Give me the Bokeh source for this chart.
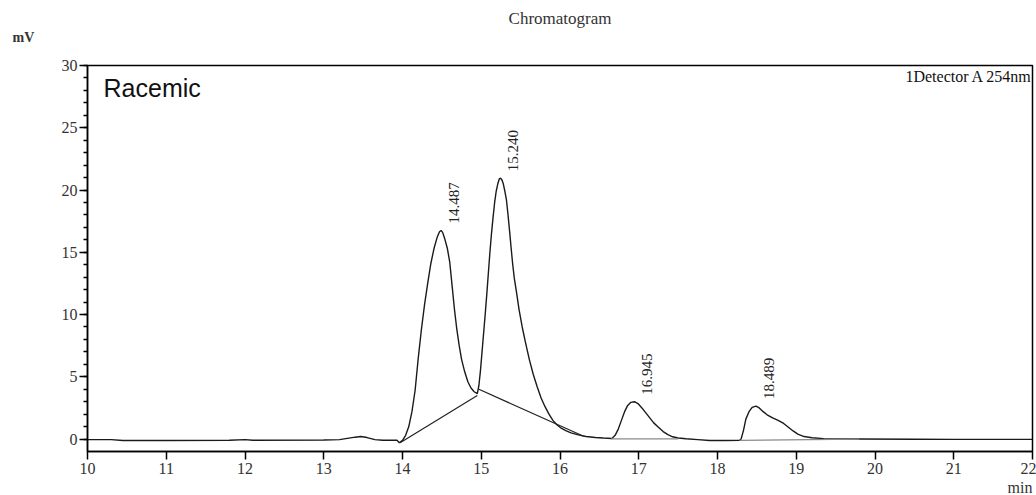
import math
from bokeh.plotting import figure
from bokeh.models import Range1d, FixedTicker, Label, ColumnDataSource, Title
from bokeh.core.properties import value
from bokeh.embed import file_html
from bokeh.resources import INLINE

# ---- data ----
time_min = [
    10.00, 10.30, 10.45, 11.00, 11.80, 12.00, 12.10, 13.00, 13.20, 13.30, 13.40, 13.47, 13.55, 13.65, 13.75, 13.93, 13.96,
    14.00, 14.04, 14.08, 14.12, 14.16, 14.20, 14.24, 14.28, 14.32, 14.36, 14.40, 14.44, 14.47, 14.49, 14.51, 14.54, 14.57,
    14.60, 14.63, 14.66, 14.69, 14.72, 14.75, 14.79, 14.83, 14.87, 14.91, 14.95,
    14.97, 14.99, 15.01, 15.03, 15.05, 15.07, 15.09, 15.11, 15.13, 15.15, 15.17, 15.19, 15.21, 15.23, 15.245, 15.26, 15.28,
    15.30, 15.32, 15.34, 15.36, 15.38, 15.40, 15.42, 15.45, 15.48, 15.52, 15.56, 15.61, 15.66, 15.71, 15.76, 15.81, 15.86,
    15.91, 15.96, 16.02, 16.08, 16.14, 16.22, 16.33, 16.45, 16.55, 16.66,
    16.70, 16.74, 16.78, 16.82, 16.86, 16.90, 16.945, 16.99, 17.04, 17.09, 17.14, 17.19, 17.25, 17.31, 17.37, 17.43, 17.50,
    17.60, 17.75, 17.90, 18.10, 18.28,
    18.30, 18.33, 18.36, 18.40, 18.44, 18.489, 18.53, 18.58, 18.63, 18.70, 18.77, 18.84, 18.90, 18.96, 19.02, 19.10, 19.20,
    19.35, 19.60, 19.80, 20.50, 21.00, 22.00,
]
signal_mv = [
    -0.05, -0.05, -0.12, -0.12, -0.10, -0.05, -0.10, -0.08, -0.05, 0.05, 0.15, 0.20, 0.12, -0.05, -0.10, -0.10, -0.30,
    -0.10, 0.30, 1.00, 2.20, 3.90, 6.50, 8.80, 10.80, 12.50, 14.10, 15.30, 16.20, 16.65, 16.75, 16.60, 16.00, 15.30,
    14.20, 12.30, 10.40, 8.80, 7.50, 6.40, 5.40, 4.60, 4.10, 3.80, 3.65,
    4.30, 5.50, 7.00, 8.50, 10.00, 11.60, 13.30, 15.00, 16.50, 17.80, 19.00, 19.90, 20.50, 20.90, 20.95, 20.85, 20.50,
    19.90, 19.20, 18.00, 16.70, 15.30, 14.00, 12.90, 11.70, 10.40, 9.00, 7.80, 6.40, 5.20, 4.20, 3.30, 2.60, 2.00,
    1.50, 1.15, 0.85, 0.65, 0.50, 0.35, 0.20, 0.12, 0.08, 0.05,
    0.30, 0.80, 1.50, 2.20, 2.70, 2.95, 3.00, 2.85, 2.50, 2.10, 1.70, 1.30, 0.95, 0.60, 0.35, 0.18, 0.08,
    0.02, -0.05, -0.12, -0.12, -0.10,
    0.00, 0.70, 1.60, 2.20, 2.55, 2.65, 2.50, 2.20, 1.95, 1.70, 1.50, 1.25, 0.95, 0.65, 0.40, 0.20, 0.10,
    0.03, 0.00, 0.00, -0.02, -0.03, -0.03,
]

peak_rt = [14.487, 15.240, 16.945, 18.489]
peak_height = [16.75, 20.95, 3.00, 2.65]
peak_labels = ["14.487", "15.240", "16.945", "18.489"]

# integration baselines
base_x0 = [13.97, 14.97, 16.65, 18.28]
base_y0 = [-0.30, 4.00, 0.02, -0.10]
base_x1 = [14.95, 16.30, 17.50, 19.80]
base_y1 = [3.50, 0.22, 0.02, 0.00]
base_color = ["#222222", "#222222", "#8a8a8a", "#8a8a8a"]

x_ticks = list(range(10, 23))
y_ticks = [0, 5, 10, 15, 20, 25, 30]
y_minor = list(range(0, 31))

SERIF = "Liberation Serif"

p = figure(width=1036, height=495, output_backend="svg", toolbar_location=None,
           x_range=Range1d(10, 22), y_range=Range1d(-1, 30),
           min_border_left=87, min_border_right=4, min_border_top=65, min_border_bottom=44)
p.xgrid.visible = False
p.ygrid.visible = False
p.outline_line_color = "black"
p.outline_line_width = 1.5
p.background_fill_color = "white"
p.border_fill_color = "white"

for ax in (p.xaxis[0], p.yaxis[0]):
    ax.axis_line_color = "black"
    ax.axis_line_width = 1.5
    ax.major_tick_line_color = "black"
    ax.major_tick_line_width = 1.5
    ax.major_tick_in = 0
    ax.major_tick_out = 8
    ax.minor_tick_in = 0
    ax.major_label_text_font = SERIF
    ax.major_label_text_font_size = "16px"
    ax.major_label_text_color = "#333333"

p.xaxis[0].ticker = FixedTicker(ticks=x_ticks)
p.xaxis[0].minor_tick_line_color = None
p.xaxis[0].major_label_standoff = 3
p.yaxis[0].ticker = FixedTicker(ticks=y_ticks, minor_ticks=y_minor)
p.yaxis[0].minor_tick_line_color = "black"
p.yaxis[0].minor_tick_line_width = 1.5
p.yaxis[0].minor_tick_out = 4
p.yaxis[0].major_label_standoff = 2

# trace
p.line(time_min, signal_mv, line_color="#1a1a1a", line_width=1.4)

# baselines
p.segment(x0=base_x0, y0=base_y0, x1=base_x1, y1=base_y1, line_color=base_color, line_width=1.2)

# peak labels
src = ColumnDataSource(dict(x=peak_rt, y=peak_height, t=peak_labels))
p.text(x="x", y="y", text="t", source=src, angle=math.pi / 2, x_offset=13, y_offset=-7,
       text_align="left", text_baseline="middle", text_font=value(SERIF),
       text_font_size="15px", text_color="#222222")

# in-frame annotations
p.add_layout(Label(x=10.204, y=28.23, text="Racemic", text_align="left", text_baseline="middle",
                   text_font="Liberation Sans", text_font_size="25px", text_color="#111111"))
p.add_layout(Label(x=22.0, y=29.15, text="1Detector A 254nm", text_align="right", text_baseline="middle",
                   text_font=SERIF, text_font_size="16px", text_color="#111111"))

# outside texts as titles in side panels (first one is an empty spacer)
p.add_layout(Title(text=" ", standoff=18, text_font_size="1px"), "above")
p.add_layout(Title(text="mV", align="left", offset=-75, standoff=0, text_font=SERIF,
                   text_font_size="14px", text_font_style="bold", text_color="#333333",
                   text_line_height=0.7), "above")
p.add_layout(Title(text="Chromatogram", align="center", standoff=0, text_font=SERIF,
                   text_font_size="17px", text_font_style="normal", text_color="#333333"), "above")
p.add_layout(Title(text="min", align="right", standoff=0, text_font=SERIF,
                   text_font_size="16px", text_font_style="normal", text_color="#333333"), "below")

open("out.html", "w").write(file_html(p, INLINE))
